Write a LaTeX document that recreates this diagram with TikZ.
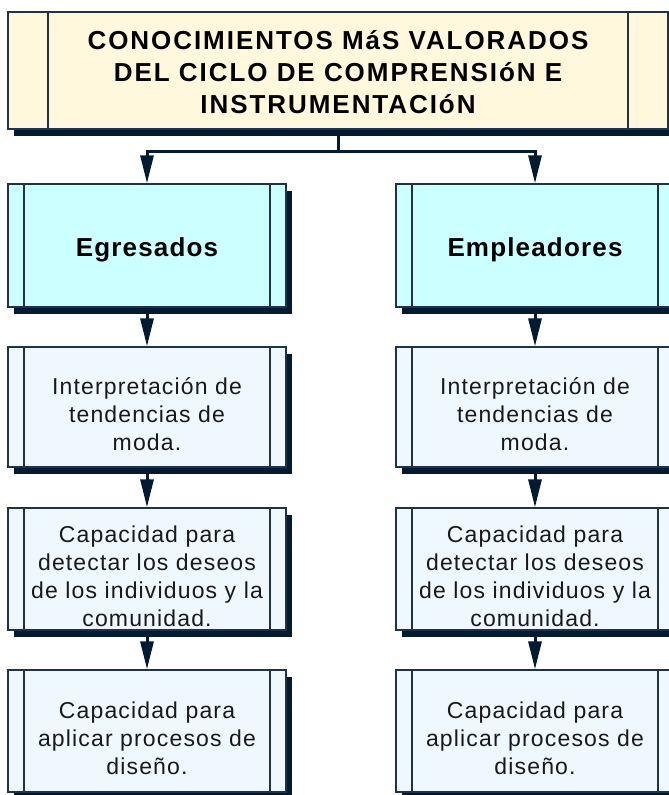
\documentclass[tikz,border=0pt]{standalone}
\usepackage{fontspec}
\setmainfont{Liberation Sans}
\newfontfamily\titlef[LetterSpace=7.5]{Liberation Sans}
\newfontfamily\headf[LetterSpace=4.5]{Liberation Sans}
\newfontfamily\bodyf[LetterSpace=5]{Liberation Sans}
\usetikzlibrary{arrows.meta,shadows}
\definecolor{navy}{HTML}{021B33}
\definecolor{edge}{HTML}{1F3347}
\definecolor{cream}{HTML}{FFF8DC}
\definecolor{headc}{HTML}{CCFFFF}
\definecolor{bodyc}{HTML}{F0F8FF}
\tikzset{
  procbox/.style={draw=edge, line width=1.4pt, inner sep=0pt,
    general shadow={fill=navy, shadow xshift=6pt, shadow yshift=-7pt},
    path picture={
      \draw[edge, line width=1.4pt]
        ([xshift=#1]path picture bounding box.north west) -- ([xshift=#1]path picture bounding box.south west)
        ([xshift=-#1]path picture bounding box.north east) -- ([xshift=-#1]path picture bounding box.south east);
    }},
  topbox/.style={procbox=40pt, fill=cream, minimum width=660pt, minimum height=117pt},
  headbox/.style={procbox=16pt, fill=headc, minimum width=278pt, minimum height=123pt},
  itembox/.style={procbox=16pt, fill=bodyc, minimum width=278pt, minimum height=#1},
  toptext/.style={align=center, font=\titlef\bfseries\fontsize{26pt}{32pt}\selectfont},
  headtext/.style={align=center, font=\headf\bfseries\fontsize{26pt}{30pt}\selectfont},
  itemtext/.style={align=center, font=\bodyf\fontsize{23pt}{28pt}\selectfont, text=black!90},
  conn/.style={navy, line width=3pt, -{Triangle[width=13pt,length=28pt]}}
}
\begin{document}
\begin{tikzpicture}[x=1pt,y=-1pt]
\useasboundingbox (0,0) rectangle (669,795);
\node[topbox, label={[toptext,yshift=-2pt]center:CONOCIMIENTOS MáS VALORADOS\\DEL CICLO DE COMPRENSIóN E\\INSTRUMENTACIóN}] (top) at (338,70.5) {};
\node[headbox, label={[headtext,yshift=-4pt]center:Egresados}] (eg) at (147,245.5) {};
\node[headbox, label={[headtext,yshift=-4pt]center:Empleadores}] (em) at (535,245.5) {};
\node[itembox=120pt, label={[itemtext,yshift=-7pt]center:Interpretación de\\tendencias de\\moda.}] (a1) at (147,407) {};
\node[itembox=120pt, label={[itemtext,yshift=-7pt]center:Interpretación de\\tendencias de\\moda.}] (a2) at (535,407) {};
\node[itembox=122pt, label={[itemtext,yshift=-7pt]center:Capacidad para\\detectar los deseos\\de los individuos y la\\comunidad.}] (b1) at (147,569) {};
\node[itembox=122pt, label={[itemtext,yshift=-7pt]center:Capacidad para\\detectar los deseos\\de los individuos y la\\comunidad.}] (b2) at (535,569) {};
\node[itembox=122pt, label={[itemtext,yshift=-7pt]center:Capacidad para\\aplicar procesos de\\diseño.}] (c1) at (147,731) {};
\node[itembox=122pt, label={[itemtext,yshift=-7pt]center:Capacidad para\\aplicar procesos de\\diseño.}] (c2) at (535,731) {};
\coordinate (hub) at ([yshift=-22pt]top.south);
\draw[conn] (top.south) -- (hub) -| (eg.north);
\draw[conn] (hub) -| (em.north);
\draw[conn] (eg.south) -- (a1.north);
\draw[conn] (em.south) -- (a2.north);
\draw[conn] (a1.south) -- (b1.north);
\draw[conn] (a2.south) -- (b2.north);
\draw[conn] (b1.south) -- (c1.north);
\draw[conn] (b2.south) -- (c2.north);
\end{tikzpicture}
\end{document}
